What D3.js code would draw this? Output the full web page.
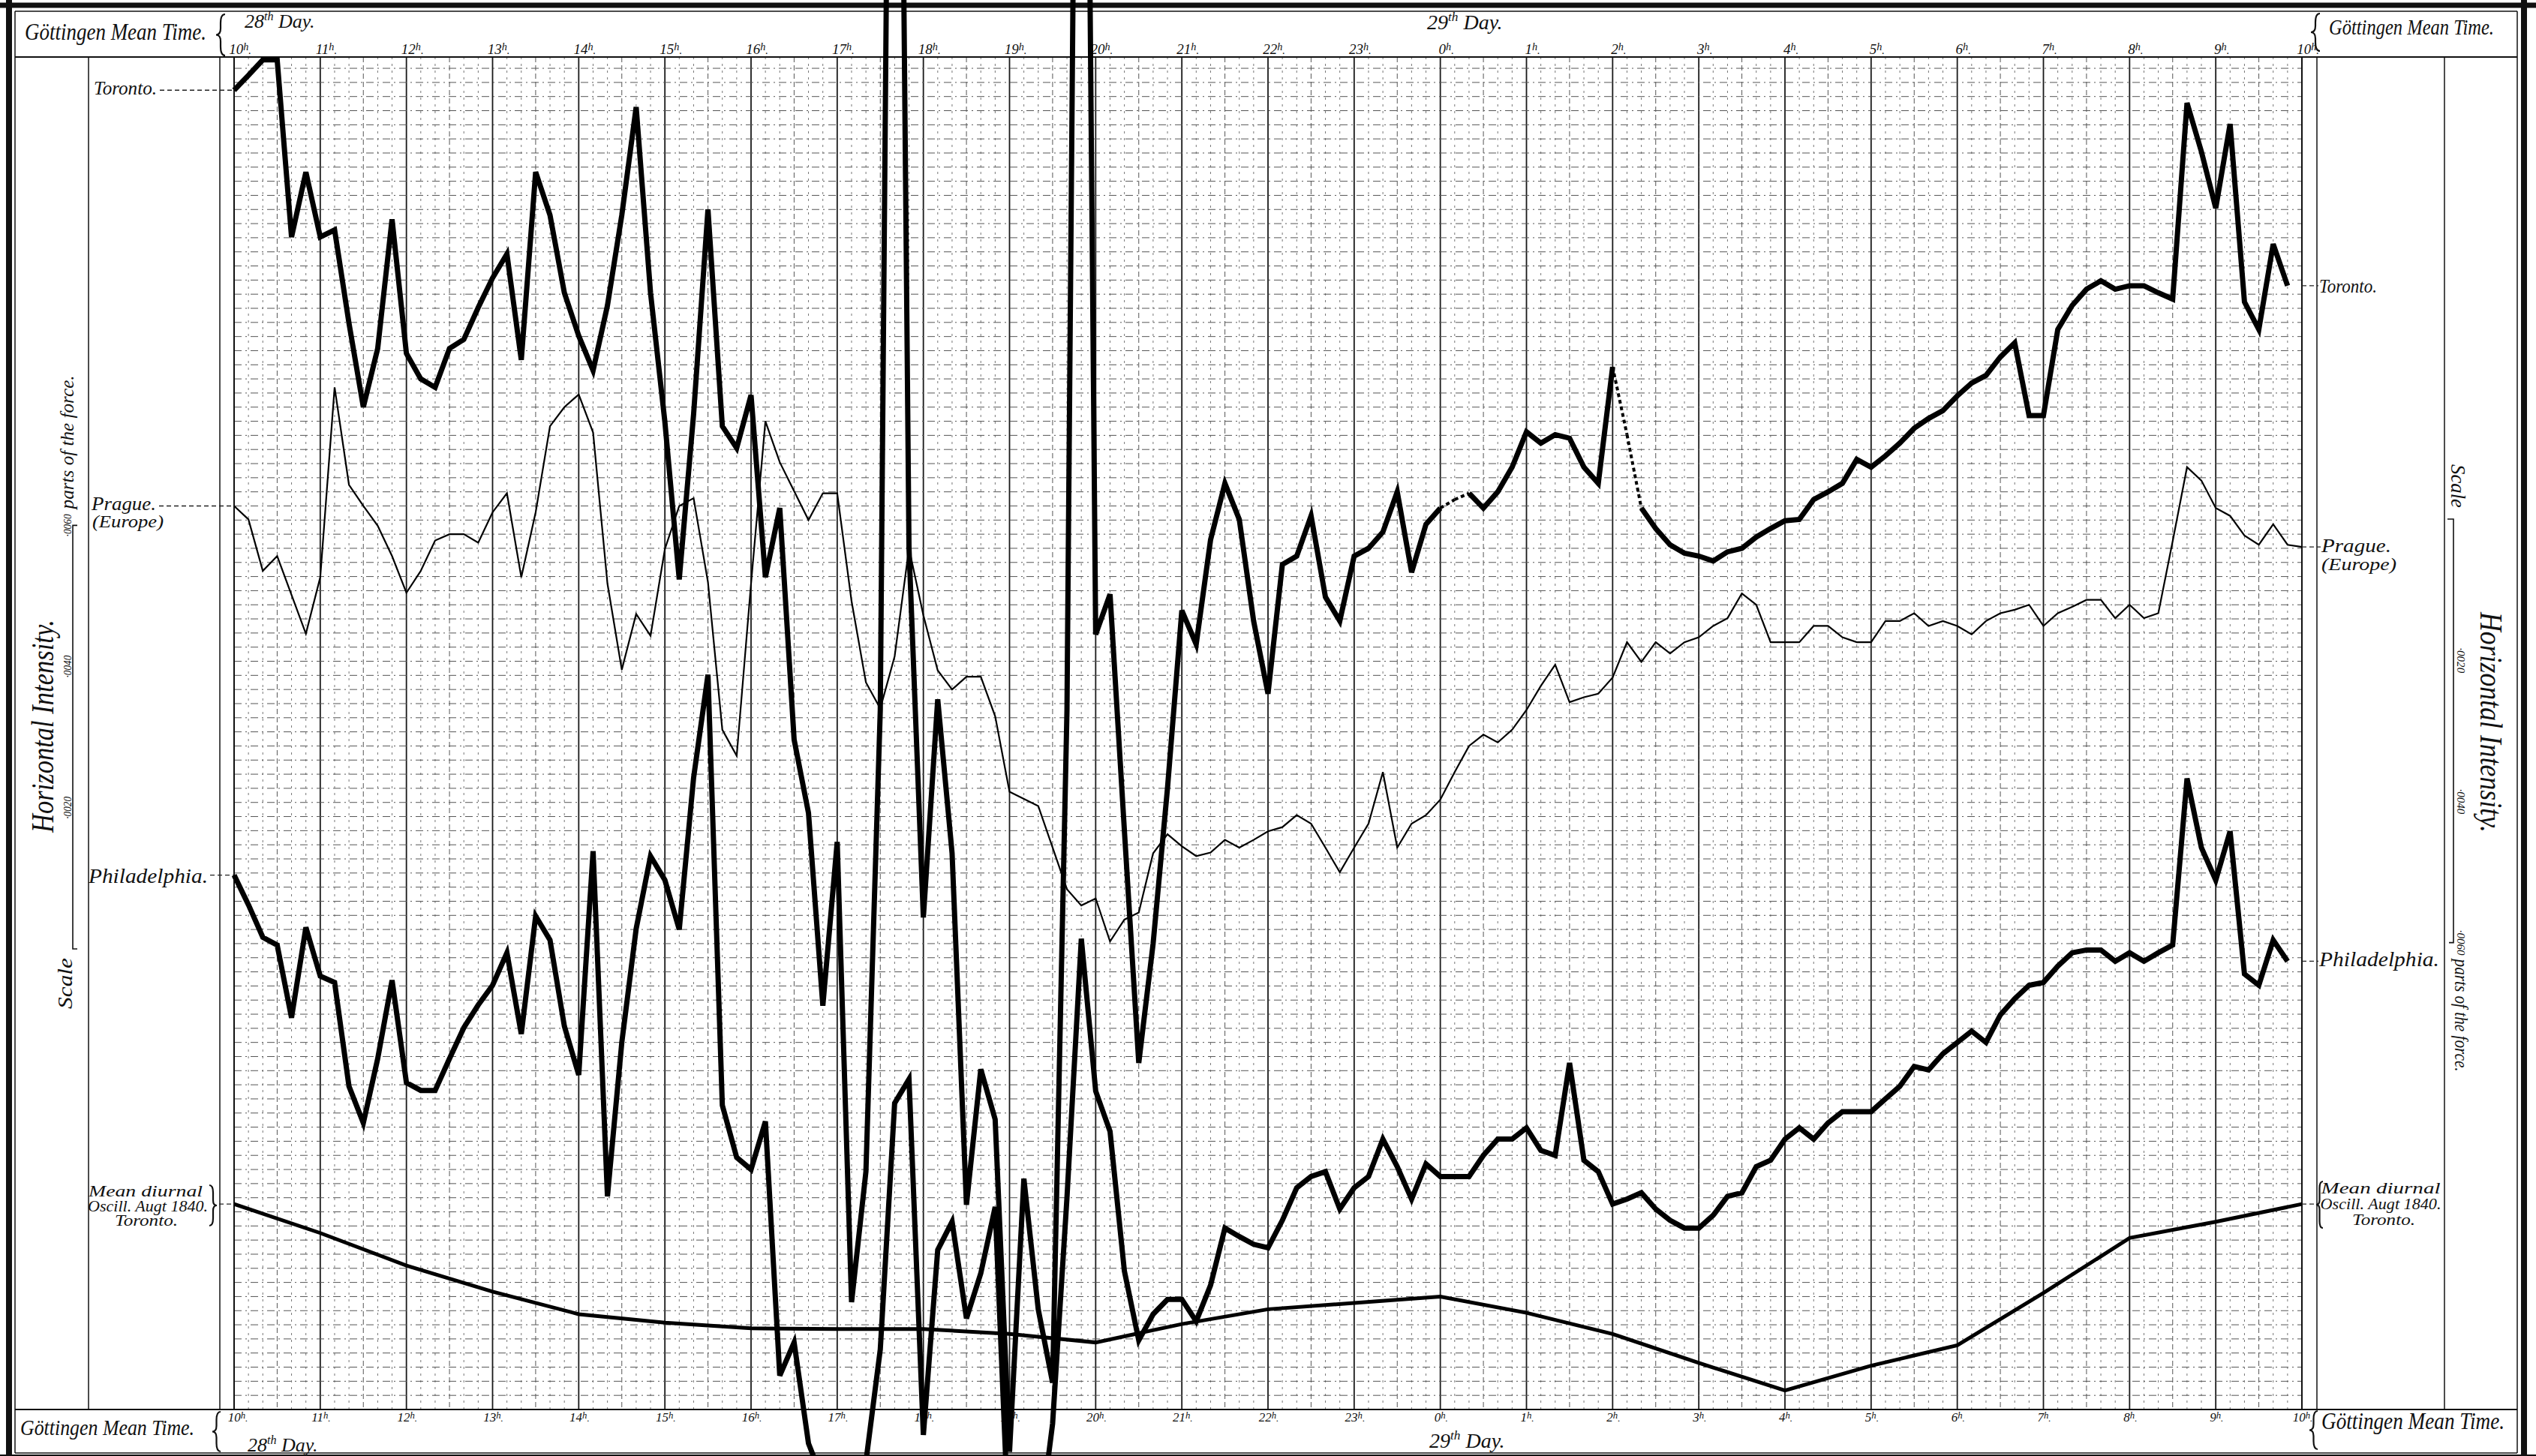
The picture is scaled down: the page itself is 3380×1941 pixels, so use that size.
<!DOCTYPE html>
<html>
<head>
<meta charset="utf-8">
<script src="https://cdn.jsdelivr.net/npm/d3@7"></script>
<style>
  body { margin: 0; background: #fff; }
  svg { display: block; }
  text { font-family: "Liberation Serif", "DejaVu Serif", serif; font-style: italic; fill: #111; }
</style>
</head>
<body>
<div id="chart"></div>
<script>
(function(){

  var width = 3380;
  var height = 1941;

  // readings every 10 minutes, hours counted from midnight of the 28th (10h -> 34h = 10h of the 29th)
  var startHour = 10;
  var endHour = 34;
  var step = 1 / 6;

  var hourLabels = ["10","11","12","13","14","15","16","17","18","19","20","21","22","23",
                    "0","1","2","3","4","5","6","7","8","9","10"];

  // horizontal intensity, in ten-thousandths of the force, measured up from the foot of the sheet
  var toronto = [
    186.9,189.0,191.2,191.2,166.1,175.3,166.1,167.1,153.9,142.0,
    150.3,168.6,149.6,146.0,144.8,150.3,151.6,156.1,160.3,163.7,
    148.7,175.3,169.2,158.2,152.1,147.2,156.4,169.2,184.5,158.2,
    139.9,117.6,141.0,170.0,139.3,136.2,143.7,117.9,127.7,94.9,
    84.5,57.2,80.4,15.2,33.7,99.1,340,122.0,69.7,100.6,
    78.8,29.0,48.2,41.1,-6,32.7,14.2,3.8,99,340,
    109.8,115.5,82,49.1,66,88,113.2,108.4,123.2,131.2,
    126.1,111.7,101.4,119.7,120.9,126.6,115.1,111.7,120.9,122.0,
    124.3,130.0,118.6,125.4,127.7,128.9,129.8,127.7,130.0,133.5,
    138.5,136.9,138.1,137.6,133.5,131.2,147.7,138.1,127.7,124.8,
    122.5,121.3,120.9,120.2,121.5,122.0,123.6,124.8,125.9,126.1,
    128.9,130.0,131.2,134.6,133.5,135.1,136.9,139.0,140.4,141.5,
    143.6,145.4,146.5,149.1,151.1,140.8,140.8,153.0,156.4,158.7,
    159.9,158.7,159.2,159.2,158.2,157.3,185.1,178.2,170.2,182.1,
    156.9,153.0,165.1,159.2
  ];
  // Toronto readings joined by a dotted line (index of the segment start)
  var torontoDotted = [84, 85, 96, 97];

  var prague = [
    128.0,126.1,118.8,120.9,115.4,109.9,117.9,144.8,131.0,128.0,
    125.2,120.9,115.7,118.8,123.1,124.0,124.0,122.8,127.1,129.8,
    117.9,127.1,139.3,142.0,143.8,138.4,117.0,104.8,112.7,109.6,
    121.9,128.0,129.1,117.2,96.3,92.6,117.0,140.0,134.2,130.1,
    126.0,129.8,129.8,114.5,103.0,99.3,106.7,122.0,112.5,104.7,
    102.0,103.8,103.8,98.2,87.5,86.5,85.5,79.6,73.7,71.4,
    72.4,66.3,69.4,70.4,78.8,81.5,79.8,78.4,78.9,80.7,
    79.6,80.7,81.9,82.5,84.2,83.0,79.6,76.1,79.6,83.0,
    90.3,79.6,83.0,84.2,86.4,90.3,94.0,95.6,94.5,96.3,
    99.1,102.5,105.5,100.2,100.9,101.4,103.7,108.7,105.9,108.7,
    107.1,108.7,109.4,111.0,112.1,115.6,114.0,108.7,108.7,108.7,
    111.0,111.0,109.4,108.7,108.7,111.7,111.7,112.8,111.0,111.7,
    111.0,109.8,111.7,112.8,113.3,114.0,111.0,112.8,113.7,114.7,
    114.7,112.1,114.0,112.1,112.8,123.0,133.5,131.6,127.7,126.6,
    123.8,122.5,125.4,122.5,122.2
  ];

  var philadelphia = [
    75.7,71.5,66.9,65.8,55.5,68.3,61.4,60.5,45.8,40.6,
    49.7,60.8,46.3,45.2,45.2,49.7,54.1,57.3,60.1,64.7,
    53.2,69.9,66.5,54.3,47.4,79.1,30.2,52.0,68.1,78.4,
    75.0,68.0,89.5,104.1,43.1,35.7,34.0,40.8,4.8,9.5,
    -4.8,-10,-12.8,-10.6,-7.4,8.5,43.4,46.8,-3.6,22.6,
    26.6,12.9,19.3,28.7,-20,-28,-18,-2,30,66.7,
    45.1,39.4,19.6,9.8,13.5,15.6,15.6,12.5,17.6,25.7,
    24.5,23.4,22.9,26.8,31.4,33.0,33.7,28.4,31.4,33.0,
    38.3,34.4,29.8,34.8,33.0,33.0,33.0,36.0,38.3,38.3,
    39.9,36.7,36.0,49.1,35.3,33.7,29.1,29.8,30.7,28.4,
    26.8,25.7,25.7,27.5,30.2,30.7,34.4,35.3,38.3,39.9,
    38.3,40.6,42.2,42.2,42.2,44.0,45.8,48.6,48.1,50.4,
    52.0,53.6,52.0,55.9,58.2,60.1,60.5,62.8,64.7,65.1,
    65.1,63.5,64.7,63.5,64.7,65.8,89.4,79.6,75.0,81.9,
    61.7,60.1,66.5,63.5
  ];

  // mean diurnal oscillation, Toronto, August 1840 (hourly)
  var meanDiurnal = [29.1,25.0,20.4,16.7,13.5,12.3,11.5,11.4,11.4,10.7,9.5,12.1,14.2,
                     15.1,16.0,13.7,10.7,6.6,2.7,6.2,9.1,16.5,24.3,26.6,29.1];

  var scaleTicks = [20, 40, 60];
  var scaleTickLabels = ["·0020", "·0040", "·0060"];

  var svg = d3.select('#chart')
        .append('svg')
        .attr('width', width)
        .attr('height', height);

  svg.append('rect').attr('width', width).attr('height', height).attr('fill', '#fff');

  var x = d3.scaleLinear().domain([startHour, endHour]).range([312, 3068]);
  var y = d3.scaleLinear().domain([0, 191.6]).range([1879, 76]);

  var plotTop = y(191.6), plotBottom = y(0);
  var plotLeft = x(startHour), plotRight = x(endHour);

  // ---- grid ----
  var grid = svg.append('g');
  var minorTimes = d3.range(0, 145).map(function(k){ return startHour + k * step; });
  grid.selectAll('line.v')
    .data(minorTimes)
    .enter()
    .append('line')
      .attr('x1', function(d){ return x(d); })
      .attr('x2', function(d){ return x(d); })
      .attr('y1', plotTop)
      .attr('y2', plotBottom)
      .attr('stroke', function(d, i){ return i % 6 === 0 ? '#1a1a1a' : (i % 3 === 0 ? '#555' : '#777'); })
      .attr('stroke-width', function(d, i){ return i % 6 === 0 ? 1.8 : 1; })
      .attr('stroke-dasharray', function(d, i){ return i % 6 === 0 ? null : (i % 3 === 0 ? '7,4' : '3,6'); });

  var rowValues = d3.range(2, 191, 2);
  grid.selectAll('line.h')
    .data(rowValues)
    .enter()
    .append('line')
      .attr('x1', plotLeft)
      .attr('x2', plotRight)
      .attr('y1', function(d){ return y(d); })
      .attr('y2', function(d){ return y(d); })
      .attr('stroke', '#555')
      .attr('stroke-width', 1)
      .attr('stroke-dasharray', '10,5,2,5');

  // ---- frame and columns ----
  var frame = svg.append('g').attr('stroke', '#111').attr('fill', 'none');
  function vline(x0, y0, y1, w){
    frame.append('line').attr('x1', x0).attr('x2', x0).attr('y1', y0).attr('y2', y1).attr('stroke-width', w);
  }
  function hline(y0, x0, x1, w){
    frame.append('line').attr('x1', x0).attr('x2', x1).attr('y1', y0).attr('y2', y0).attr('stroke-width', w);
  }
  vline(12, 0, height, 8);
  vline(20, 15, 1937, 1.5);
  vline(3364, 0, height, 8);
  vline(3355, 15, 1937, 1.5);
  hline(7, 0, width, 7);
  hline(15, 20, 3355, 1.5);
  hline(1937, 20, 3355, 1.5);
  hline(1942, 0, width, 6);
  hline(plotTop, 20, 3355, 2);
  hline(plotBottom, 20, 3355, 2);
  vline(118, plotTop, plotBottom, 1.5);
  vline(293, plotTop, plotBottom, 1.5);
  vline(plotLeft, plotTop, plotBottom, 2);
  vline(plotRight, plotTop, plotBottom, 2);
  vline(3088, plotTop, plotBottom, 1.5);
  vline(3258, plotTop, plotBottom, 1.5);

  function brace(x0, y0, y1, w, dir){
    var ym = (y0 + y1) / 2, xb = x0 + dir * w, xm = x0 + dir * w / 2;
    return 'M' + xb + ',' + y0 + ' Q' + xm + ',' + y0 + ' ' + xm + ',' + (y0 + w) +
           ' L' + xm + ',' + (ym - w * 0.7) + ' Q' + xm + ',' + ym + ' ' + x0 + ',' + ym +
           ' Q' + xm + ',' + ym + ' ' + xm + ',' + (ym + w * 0.7) +
           ' L' + xm + ',' + (y1 - w) + ' Q' + xm + ',' + y1 + ' ' + xb + ',' + y1;
  }
  var braces = [
    [288, 19, 74, 12, 1], [283, 1882, 1935, 11, 1],
    [3080, 18, 68, 12, 1], [3078, 1881, 1932, 11, 1],
    [289, 1580, 1634, 10, -1], [3087, 1575, 1637, 9, 1]
  ];
  frame.selectAll('path.brace')
    .data(braces)
    .enter()
    .append('path')
      .attr('d', function(b){ return brace(b[0], b[1], b[2], b[3], b[4]); })
      .attr('stroke-width', 2.2);

  // ---- header / footer texts ----
  var labels = svg.append('g');
  function addText(tx, ty, str, size, len, anchor){
    var t = labels.append('text').attr('x', tx).attr('y', ty).attr('font-size', size).text(str);
    if(len){ t.attr('textLength', len).attr('lengthAdjust', 'spacingAndGlyphs'); }
    if(anchor){ t.attr('text-anchor', anchor); }
    return t;
  }
  function dayLabel(tx, ty, num, size){
    var t = labels.append('text').attr('x', tx).attr('y', ty).attr('font-size', size);
    t.append('tspan').text(num);
    t.append('tspan').attr('font-size', size * 0.62).attr('dy', -size * 0.4).text('th');
    t.append('tspan').attr('dy', size * 0.4).text(' Day.');
  }

  addText(33, 53, 'Göttingen Mean Time.', 32, 242);
  addText(3104, 46, 'Göttingen Mean Time.', 29, 220);
  addText(27, 1913, 'Göttingen Mean Time.', 29, 232);
  addText(3094, 1905, 'Göttingen Mean Time.', 32, 244);
  dayLabel(326, 37, '28', 26);
  dayLabel(1902, 39, '29', 28);
  dayLabel(330, 1935, '28', 26);
  dayLabel(1905, 1930, '29', 28);

  function hourLabel(hx, hy, str, size){
    var t = labels.append('text').attr('x', hx).attr('y', hy).attr('font-size', size).attr('text-anchor', 'middle');
    t.append('tspan').text(str);
    t.append('tspan').attr('font-size', size * 0.75).attr('dy', -size * 0.25).text('h');
    t.append('tspan').attr('font-size', size * 0.75).attr('dy', size * 0.25).text('.');
  }
  hourLabels.forEach(function(h, i){
    hourLabel(x(startHour + i) + 8, 72, h, 19);
    hourLabel(x(startHour + i) + (i === 0 ? 5 : 1), 1895, h, 17);
  });

  // ---- station labels, left and right ----
  var leaders = svg.append('g').attr('stroke', '#222').attr('stroke-width', 1.3).attr('stroke-dasharray', '6,4');
  function leader(x0, x1, ly){
    leaders.append('line').attr('x1', x0).attr('x2', x1).attr('y1', ly).attr('y2', ly);
  }
  var tLeft = y(toronto[0]), tRight = y(toronto[toronto.length - 1]);
  var pLeft = y(prague[0]), pRight = y(prague[prague.length - 1]);
  var phLeft = y(philadelphia[0]), phRight = y(philadelphia[philadelphia.length - 1]);
  var mLeft = y(meanDiurnal[0]), mRight = y(meanDiurnal[meanDiurnal.length - 1]);

  addText(125, tLeft + 6, 'Toronto.', 26, 84);
  leader(213, plotLeft, tLeft);
  addText(122, pLeft + 6, 'Prague.', 25, 86);
  addText(123, pLeft + 29, '(Europe)', 24, 95);
  leader(212, plotLeft, pLeft);
  addText(118, phLeft + 10, 'Philadelphia.', 28, 159);
  leader(280, plotLeft, phLeft);
  addText(194, mLeft - 10, 'Mean diurnal', 21, 152, 'middle');
  addText(197, mLeft + 10, 'Oscill. Augt 1840.', 21, 160, 'middle');
  addText(195, mLeft + 29, 'Toronto.', 21, 84, 'middle');
  leader(292, plotLeft, mLeft);

  addText(3091, tRight + 9, 'Toronto.', 26, 77);
  leader(plotRight, 3090, tRight);
  addText(3094, pRight + 7, 'Prague.', 25, 93);
  addText(3094, pRight + 31, '(Europe)', 24, 100);
  leader(plotRight, 3093, pRight);
  addText(3091, phRight + 7, 'Philadelphia.', 28, 160);
  leader(plotRight, 3090, phRight);
  addText(3173, mRight - 14, 'Mean diurnal', 21, 159, 'middle');
  addText(3173, mRight + 7, 'Oscill. Augt 1840.', 21, 161, 'middle');
  addText(3177, mRight + 28, 'Toronto.', 21, 84, 'middle');
  leader(plotRight, 3088, mRight);

  // ---- scale bars ----
  var unit = y(0) - y(1);
  var scaleG = svg.append('g');
  var leftBase = 1265, rightBase = 692, barLen = unit * 60;
  scaleG.append('path')
    .attr('d', 'M103,' + leftBase + ' L97,' + leftBase + ' L97,' + (leftBase - barLen) + ' L103,' + (leftBase - barLen))
    .attr('stroke', '#111').attr('stroke-width', 1.6).attr('fill', 'none');
  scaleG.append('path')
    .attr('d', 'M3262,' + rightBase + ' L3270,' + rightBase + ' L3270,' + (rightBase + barLen) + ' L3264,' + (rightBase + barLen))
    .attr('stroke', '#111').attr('stroke-width', 1.6).attr('fill', 'none');

  function rotText(tx, ty, angle, str, size, len, anchor){
    var t = scaleG.append('text')
      .attr('transform', 'translate(' + tx + ',' + ty + ') rotate(' + angle + ')')
      .attr('font-size', size)
      .attr('text-anchor', anchor || 'middle')
      .text(str);
    if(len){ t.attr('textLength', len).attr('lengthAdjust', 'spacingAndGlyphs'); }
    return t;
  }
  rotText(71, 968, -90, 'Horizontal Intensity.', 42, 284);
  rotText(96, 1311, -90, 'Scale', 27, 68);
  rotText(3306, 963, 90, 'Horizontal Intensity.', 42, 294);
  rotText(3267, 648, 90, 'Scale', 27, 58);
  scaleTicks.forEach(function(v, i){
    rotText(95, leftBase - unit * v, -90, scaleTickLabels[i], 15, 30);
    rotText(3275, rightBase + unit * v, 90, scaleTickLabels[i], 15, 34);
  });
  rotText(98, leftBase - barLen - 22, -90, 'parts of the force.', 25, 178, 'start');
  rotText(3272, rightBase + barLen + 22, 90, 'parts of the force.', 25, 150, 'start');

  // ---- series ----
  var series = svg.append('g').attr('fill', 'none').attr('stroke', '#000').attr('stroke-linejoin', 'miter');

  function points(values, dt){
    return values.map(function(v, i){ return { t: startHour + i * dt, v: v, i: i }; });
  }
  var line = d3.line()
    .x(function(d){ return x(d.t); })
    .y(function(d){ return y(d.v); });

  series.append('path')
    .datum(points(meanDiurnal, 1))
    .attr('d', line)
    .attr('stroke-width', 5);

  series.append('path')
    .datum(points(prague, step))
    .attr('d', line)
    .attr('stroke-width', 2.2);

  series.append('path')
    .datum(points(philadelphia, step))
    .attr('d', line)
    .attr('stroke-width', 7);

  var tPts = points(toronto, step);
  var gapped = d3.line()
    .defined(function(d){ return torontoDotted.indexOf(d.i) < 0 || torontoDotted.indexOf(d.i - 1) < 0; })
    .x(function(d){ return x(d.t); })
    .y(function(d){ return y(d.v); });
  series.append('path')
    .datum(tPts)
    .attr('d', gapped)
    .attr('stroke-width', 7);
  series.selectAll('line.dot')
    .data(torontoDotted)
    .enter()
    .append('line')
      .attr('x1', function(i){ return x(tPts[i].t); })
      .attr('y1', function(i){ return y(tPts[i].v); })
      .attr('x2', function(i){ return x(tPts[i + 1].t); })
      .attr('y2', function(i){ return y(tPts[i + 1].v); })
      .attr('stroke-width', 4)
      .attr('stroke-dasharray', '5,4');

})();
</script>
</body>
</html>
